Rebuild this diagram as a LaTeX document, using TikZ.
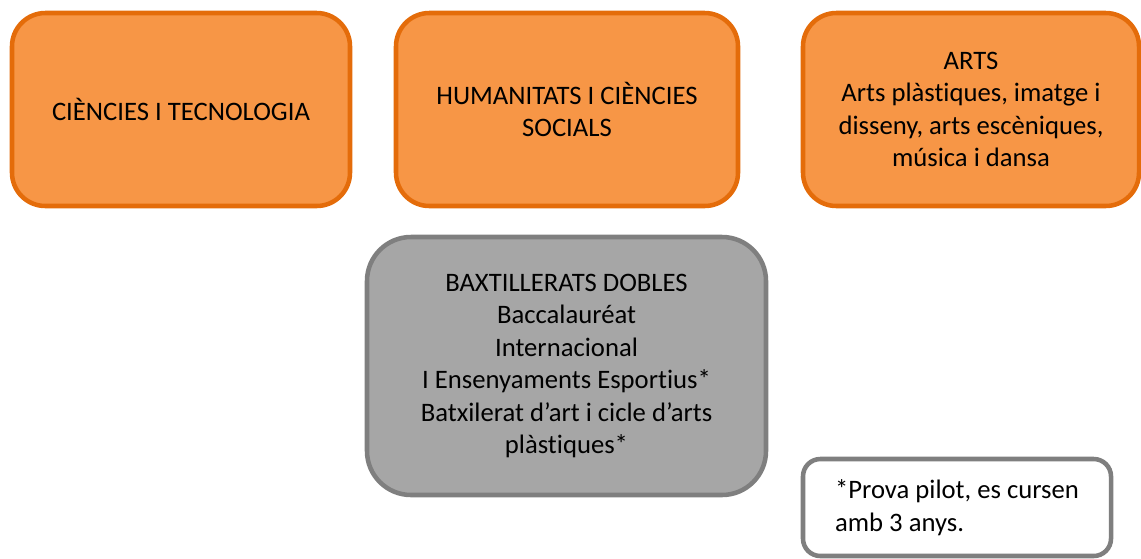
\documentclass[tikz,border=0pt]{standalone}
\usepackage{fontspec}
\setmainfont{Carlito}[Ligatures={NoCommon}]
\usetikzlibrary{positioning}
\definecolor{orangefill}{HTML}{F79646}
\definecolor{orangeline}{HTML}{E46C0A}
\definecolor{grayfill}{HTML}{A6A6A6}
\definecolor{grayline}{HTML}{7F7F7F}

\begin{document}
\begin{tikzpicture}[x=0.75pt, y=-0.75pt, line width=3.4pt,
    caixa/.style={align=center, inner sep=0pt, font=\fontsize{20}{24.4}\selectfont},
    branca/.style={caixa, draw=orangeline, fill=orangefill, rounded corners=25pt, minimum height=144.75pt},
    doble/.style={caixa, draw=grayline, fill=grayfill, rounded corners=33pt},
    nota/.style={caixa, align=left, draw=grayline, fill=white, rounded corners=13pt}]

\useasboundingbox (0,0) rectangle (1141,558);

\node[branca, minimum width=253.5pt] (ciencies) at (181,109.5) {CIÈNCIES I TECNOLOGIA};
\node[branca, minimum width=256.5pt] (humanitats) at (567,109.5) {HUMANITATS I CIÈNCIES\\SOCIALS};
\node[branca, minimum width=252pt] (arts) at (971,109.5) {ARTS\\Arts plàstiques, imatge i\\disseny, arts escèniques,\\música i dansa};

\node[doble, minimum width=299.25pt, minimum height=193.5pt] (dobles) at (566.5,366)
    {BAXTILLERATS DOBLES\\Baccalauréat\\Internacional\\I Ensenyaments Esportius*\\Batxilerat d’art i cicle d’arts\\plàstiques*};

\node[nota, minimum width=231pt, minimum height=72.75pt] (pilot) at (957,507.5) {*Prova pilot, es cursen\\amb 3 anys.};
\end{tikzpicture}
\end{document}
